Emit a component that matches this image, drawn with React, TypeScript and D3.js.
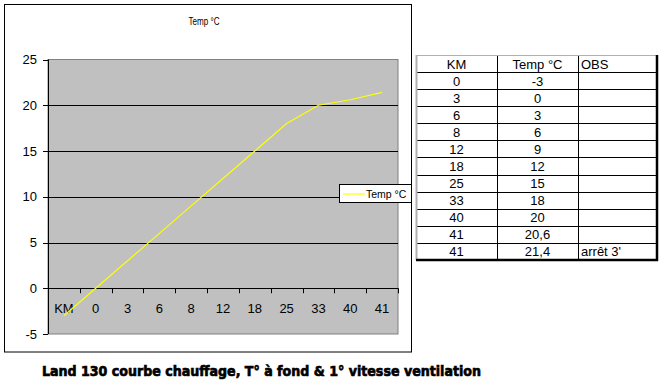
import React from "react";
import * as d3 from "d3";

const categories = ["KM", "0", "3", "6", "8", "12", "18", "25", "33", "40", "41"];
const temps = [-3, 0, 3, 6, 9, 12, 15, 18, 20, 20.6, 21.4];
const yTicks = [-5, 0, 5, 10, 15, 20, 25];

const tableHeader = ["KM", "Temp °C", "OBS"];
const tableKm = ["0", "3", "6", "8", "12", "18", "25", "33", "40", "41", "41"];
const tableTemp = ["-3", "0", "3", "6", "9", "12", "15", "18", "20", "20,6", "21,4"];
const tableObs = ["", "", "", "", "", "", "", "", "", "", "arrêt 3'"];

const W = 663;
const H = 386;
const font = "'Liberation Sans', Arial, sans-serif";

const App = () => {
  // plot area
  const left = 48, right = 398, top = 59.5, bottom = 334;

  const x = d3.scaleBand().domain(categories).range([left, right]);
  const y = d3.scaleLinear().domain([-5, 25]).range([bottom, top]);

  const line = d3
    .line<number>()
    .x((_, i) => (x(categories[i]) as number) + x.bandwidth() / 2)
    .y((d) => y(d));

  // table geometry
  const tLeft = 416, tRight = 657, tTop = 55, rowH = 17.08;
  const colX = [416, 497, 578, 657];
  const nRows = tableKm.length + 1;
  const tBottom = tTop + rowH * nRows;

  return (
    <svg
      width={W}
      height={H}
      style={{ position: "absolute", left: 0, top: 0, background: "#fff" }}
      fontFamily={font}
    >
      <rect x={0} y={0} width={W} height={H} fill="#fff" />

      {/* chart area */}
      <rect x={4.5} y={4.5} width={407} height={347.5} fill="#fff" stroke="#000" />
      <text x={204} y={25} fontSize={10} textAnchor="middle" textLength={31} lengthAdjust="spacingAndGlyphs">
        Temp °C
      </text>

      {/* plot area */}
      <rect x={left} y={top} width={right - left} height={bottom - top} fill="#c0c0c0" stroke="#808080" />

      {yTicks
        .filter((t) => t !== -5 && t !== 0 && t !== 25)
        .map((t) => (
          <line key={t} x1={left} x2={right} y1={Math.round(y(t)) + 0.5} y2={Math.round(y(t)) + 0.5} stroke="#000" />
        ))}

      {/* y axis */}
      <line x1={left + 0.5} x2={left + 0.5} y1={top} y2={bottom} stroke="#000" />
      {yTicks.map((t) => (
        <g key={t}>
          <line x1={left - 5} x2={left} y1={Math.round(y(t)) + 0.5} y2={Math.round(y(t)) + 0.5} stroke="#000" />
          <text x={37} y={y(t) + 4.5} fontSize={13} textAnchor="end">
            {t}
          </text>
        </g>
      ))}

      {/* category axis at 0 */}
      <line x1={left} x2={right} y1={Math.round(y(0)) + 0.5} y2={Math.round(y(0)) + 0.5} stroke="#000" />
      {categories.map((c, i) => {
        const bx = (x(c) as number) + x.bandwidth();
        return (
          <g key={c + i}>
            <line
              x1={Math.round(bx) + 0.5}
              x2={Math.round(bx) + 0.5}
              y1={y(0)}
              y2={y(0) + 5}
              stroke="#000"
            />
            <text x={(x(c) as number) + x.bandwidth() / 2} y={313} fontSize={13} textAnchor="middle">
              {c}
            </text>
          </g>
        );
      })}

      <path d={line(temps) || ""} fill="none" stroke="#ffff00" strokeWidth={1.2} />

      {/* legend */}
      <rect x={339.5} y={184.5} width={72} height={18} fill="#fff" stroke="#000" />
      <line x1={343} x2={365} y1={194} y2={194} stroke="#ffff00" strokeWidth={1.2} />
      <text x={366} y={197.5} fontSize={10.5}>
        Temp °C
      </text>

      {/* table */}
      <rect x={tLeft} y={tTop} width={tRight - tLeft} height={tBottom - tTop} fill="#fff" />
      {d3.range(1, nRows).map((r) => (
        <line
          key={r}
          x1={tLeft}
          x2={tRight}
          y1={Math.round(tTop + r * rowH) + 0.5}
          y2={Math.round(tTop + r * rowH) + 0.5}
          stroke="#000"
        />
      ))}
      {colX.slice(1, 3).map((cx) => (
        <line key={cx} x1={cx + 0.5} x2={cx + 0.5} y1={tTop} y2={tBottom} stroke="#000" />
      ))}
      <line x1={tLeft} x2={tRight} y1={tTop + 0.5} y2={tTop + 0.5} stroke="#b0b0b0" />
      <line x1={tLeft + 0.5} x2={tLeft + 0.5} y1={tTop} y2={tBottom} stroke="#b0b0b0" strokeWidth={2} />
      <line x1={tRight} x2={tRight} y1={tTop} y2={tBottom + 1} stroke="#000" strokeWidth={2.5} />
      <line x1={tLeft} x2={tRight + 1} y1={tBottom} y2={tBottom} stroke="#000" strokeWidth={2.5} />

      {tableHeader.map((h, i) => (
        <text
          key={h}
          x={i === 2 ? colX[2] + 3 : (colX[i] + colX[i + 1]) / 2}
          y={tTop + rowH - 3.5}
          fontSize={13}
          textAnchor={i === 2 ? "start" : "middle"}
        >
          {h}
        </text>
      ))}
      {tableKm.map((k, r) => {
        const ty = tTop + (r + 2) * rowH - 3.5;
        return (
          <g key={r}>
            <text x={(colX[0] + colX[1]) / 2} y={ty} fontSize={13} textAnchor="middle">
              {k}
            </text>
            <text x={(colX[1] + colX[2]) / 2} y={ty} fontSize={13} textAnchor="middle">
              {tableTemp[r]}
            </text>
            <text x={colX[2] + 3} y={ty} fontSize={13}>
              {tableObs[r]}
            </text>
          </g>
        );
      })}

      {/* caption */}
      <text
        x={42}
        y={376}
        fontSize={14.5}
        fontWeight="bold"
        textLength={439}
        lengthAdjust="spacingAndGlyphs"
        stroke="#000"
        strokeWidth={0.7}
        style={{ fontFamily: "'DejaVu Sans', sans-serif" }}
      >
        Land 130 courbe chauffage, T° à fond &amp; 1° vitesse ventilation
      </text>
    </svg>
  );
};

export default App;
